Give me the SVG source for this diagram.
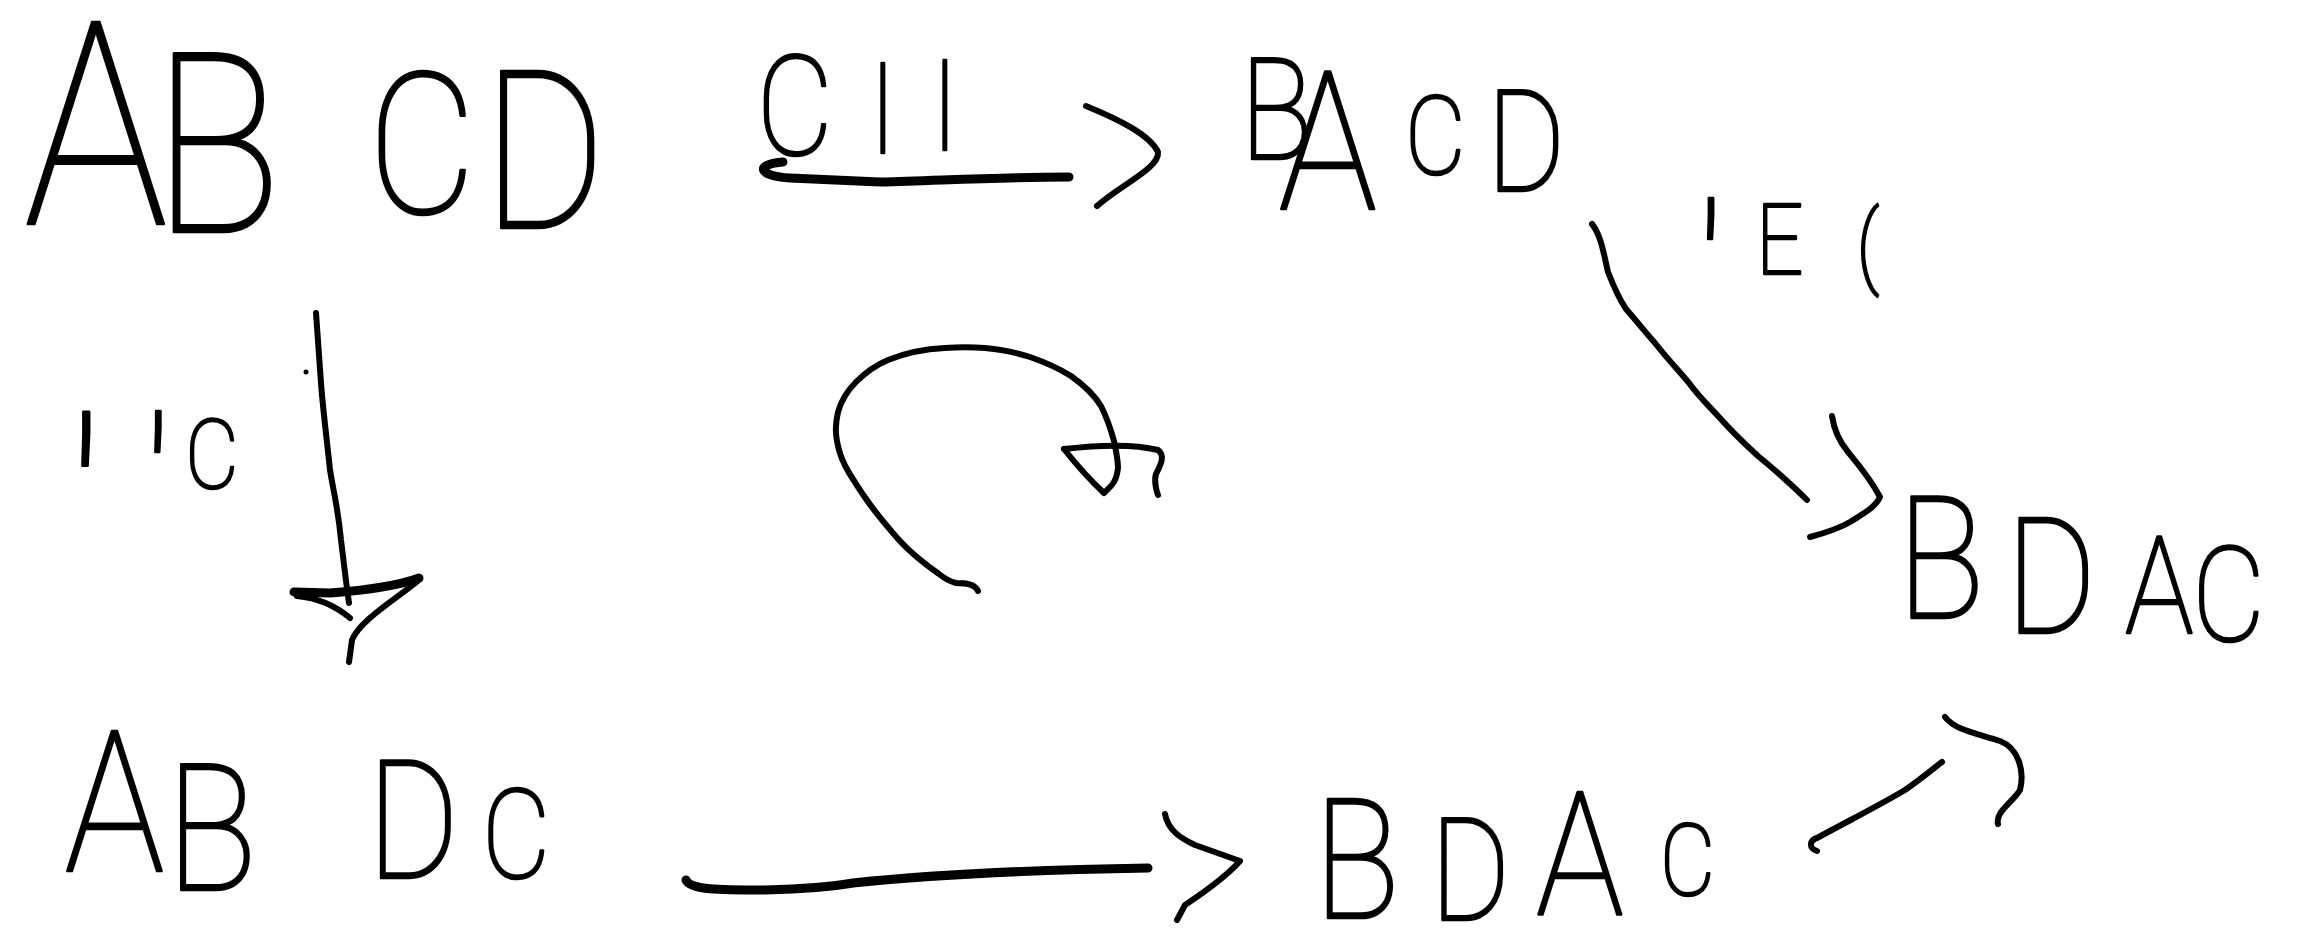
<svg xmlns="http://www.w3.org/2000/svg" width="2307" height="930" viewBox="0 0 2307 930">
<style>
.hw{font-family:Roboto,"Open Sans","DejaVu Sans",sans-serif;font-weight:100;fill:#000;stroke:#000;stroke-width:2.6;stroke-linejoin:round}
.ln{fill:none;stroke:#000;stroke-width:6;stroke-linecap:round;stroke-linejoin:round}
.th{stroke-width:9}
</style>
<rect width="2307" height="930" fill="#fff"/>
<g id="n-abcd"><text class="hw" transform="scale(0.85 1)"><tspan x="28" y="224" font-size="284">A</tspan><tspan x="180" y="232" font-size="250">B </tspan><tspan x="433" y="213" font-size="196">C</tspan><tspan x="568" y="228" font-size="221">D</tspan></text></g>
<g id="n-bacd"><text class="hw" transform="scale(0.85 1)"><tspan x="1459" y="159" font-size="141">B</tspan><tspan x="1504" y="209" font-size="194">A</tspan><tspan x="1653" y="174" font-size="110">C</tspan><tspan x="1749" y="191" font-size="141">D</tspan></text></g>
<g id="n-bdac-right"><text class="hw" transform="scale(0.85 1)"><tspan x="2232" y="618" font-size="170">B</tspan><tspan x="2360" y="633" font-size="162">D</tspan><tspan x="2500" y="633" font-size="135">A</tspan><tspan x="2579" y="641" font-size="132">C</tspan></text></g>
<g id="n-abdc"><text class="hw" transform="scale(0.85 1)"><tspan x="76" y="871" font-size="197">A</tspan><tspan x="196" y="890" font-size="176">B </tspan><tspan x="432" y="878" font-size="165">D</tspan><tspan x="567" y="878" font-size="124">C</tspan></text></g>
<g id="n-bdac-bottom"><text class="hw" transform="scale(0.85 1)"><tspan x="1546" y="918" font-size="167">B</tspan><tspan x="1683" y="920" font-size="143">D</tspan><tspan x="1807" y="915" font-size="173">A</tspan><tspan x="1953" y="895" font-size="100">C</tspan></text></g>
<g id="labels">
<text class="hw" transform="scale(0.85 1)"><tspan x="890" y="155" font-size="139">C</tspan><tspan x="1022" y="153" font-size="127">I</tspan><tspan x="1095" y="150" font-size="127">I</tspan></text>
<text class="hw" transform="scale(0.85 1)"><tspan x="79" y="612" font-size="267">'</tspan><tspan x="169" y="563" font-size="203">'</tspan><tspan x="218" y="488" font-size="97">C</tspan></text>
<text class="hw" transform="scale(0.85 1)"><tspan x="1996" y="350" font-size="203">'</tspan><tspan x="2066" y="274" font-size="98">E</tspan><tspan x="2184" y="276" font-size="90">(</tspan></text>
</g>
<g id="connectors">
<path class="ln th" d="M783,162 C755,164 757,176 790,178 L880,182 C950,180 1000,177 1069,177"/>
<path class="ln" d="M1086,106 C1120,120 1150,135 1158,152 C1160,168 1120,185 1097,206"/>
<path class="ln" d="M1592,224 C1601,235 1604,255 1608,272 C1615,290 1620,300 1626,309 C1640,325 1645,332 1655,343 C1670,362 1680,372 1689,383 C1700,398 1710,407 1718,416 C1735,435 1748,447 1758,456 C1775,470 1795,488 1807,500"/>
<path class="ln" d="M1832,416 C1834,430 1839,441 1848,452 C1858,464 1870,478 1880,497 C1875,508 1861,515 1850,522 C1840,528 1825,533 1810,537"/>
<path class="ln" d="M316,313 L321,383 C323,410 327,441 330,470 C335,500 338,508 341,540 L346,581 L349,603"/>
<path class="ln th" d="M294,592 L330,593 C370,590 400,585 419,578"/>
<path class="ln" d="M297,596 C320,598 338,608 350,618"/>
<path class="ln" d="M419,580 C395,600 360,620 352,640 L349,662"/>
<circle cx="306" cy="372" r="2.5" fill="#000"/>
<path class="ln" d="M978,591 C975,584 966,583 956,583 C948,581 944,578 939,574 C922,562 908,550 899,540 C885,524 872,508 864,496 C852,478 843,465 839,450 C835,435 835,425 838,412 C842,398 848,390 856,382 C866,372 876,365 888,360 C905,353 925,349 945,348 C960,347 970,347 985,348 C1005,350 1018,353 1030,357 C1050,364 1060,369 1071,376 C1085,386 1095,396 1101,406 C1108,420 1111,430 1114,441 C1117,455 1118,462 1118,468 C1117,477 1114,483 1111,486 L1104,493"/>
<path class="ln" d="M1064,449 C1090,446 1130,443 1158,450 C1166,456 1160,466 1156,474 C1154,480 1156,490 1158,495"/>
<path class="ln" d="M1064,449 C1075,463 1090,480 1104,493"/>
<path class="ln th" d="M686,880 C690,890 720,890 765,890 C800,889 830,887 853,883 C920,876 1020,870 1148,868"/>
<path class="ln" d="M1165,814 C1168,830 1180,838 1195,845 L1240,861 C1225,878 1200,895 1185,905 L1177,920"/>
<path class="ln" d="M1817,851 C1808,848 1810,840 1817,838 C1850,820 1880,805 1905,790 C1925,776 1935,767 1942,762"/>
<path class="ln" d="M1945,717 C1955,730 1975,733 2000,741 C2018,748 2025,770 2020,790 C2013,802 1995,812 1998,824"/>
</g>
</svg>
